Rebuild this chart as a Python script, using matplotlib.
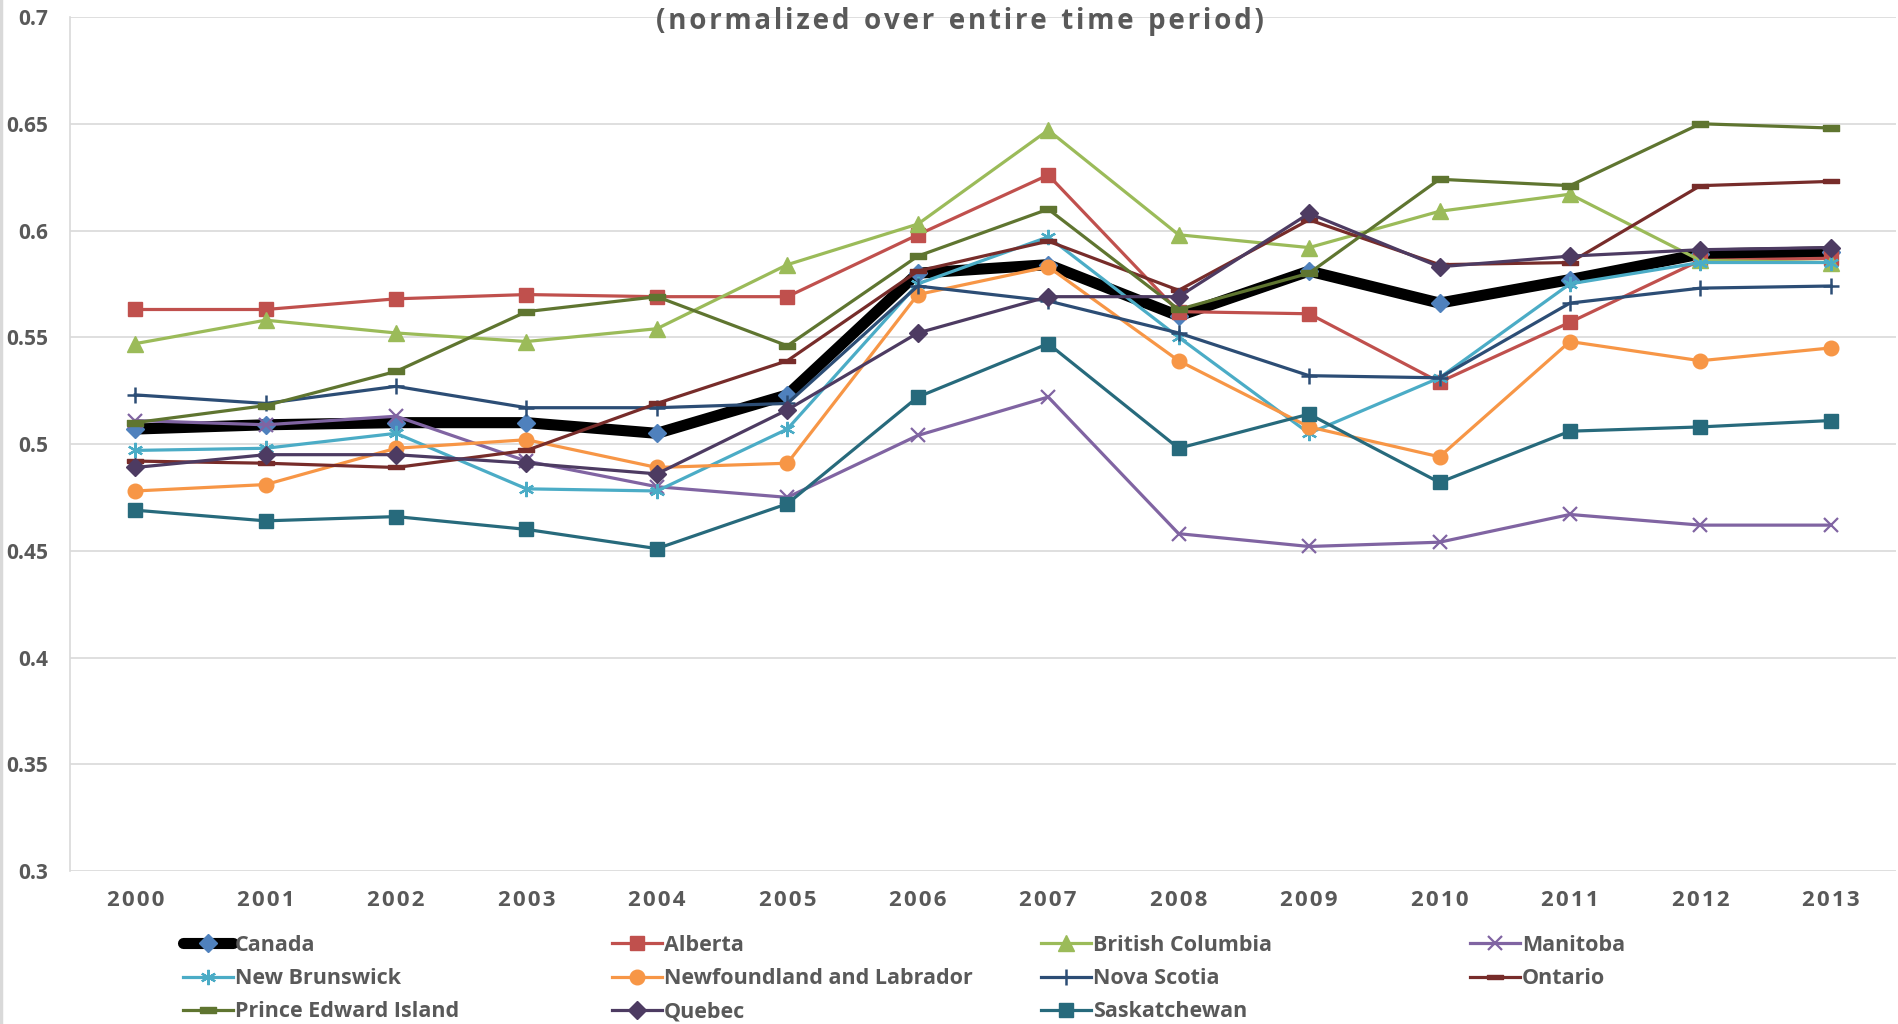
import matplotlib.pyplot as plt
from matplotlib.lines import Line2D
import numpy as np

plt.rcParams['font.family'] = ['Open Sans', 'DejaVu Sans']

years = [str(y) for y in range(2000, 2014)]

canada = [0.507, 0.509, 0.510, 0.510, 0.505, 0.523, 0.580, 0.584, 0.560, 0.581, 0.566, 0.577, 0.589, 0.590]
alberta = [0.563, 0.563, 0.568, 0.570, 0.569, 0.569, 0.598, 0.626, 0.562, 0.561, 0.529, 0.557, 0.586, 0.587]
british_columbia = [0.547, 0.558, 0.552, 0.548, 0.554, 0.584, 0.603, 0.647, 0.598, 0.592, 0.609, 0.617, 0.586, 0.585]
manitoba = [0.511, 0.509, 0.513, 0.492, 0.480, 0.475, 0.504, 0.522, 0.458, 0.452, 0.454, 0.467, 0.462, 0.462]
new_brunswick = [0.497, 0.498, 0.505, 0.479, 0.478, 0.507, 0.575, 0.597, 0.550, 0.505, 0.531, 0.575, 0.585, 0.585]
newfoundland = [0.478, 0.481, 0.498, 0.502, 0.489, 0.491, 0.570, 0.583, 0.539, 0.508, 0.494, 0.548, 0.539, 0.545]
nova_scotia = [0.523, 0.519, 0.527, 0.517, 0.517, 0.519, 0.574, 0.567, 0.552, 0.532, 0.531, 0.566, 0.573, 0.574]
ontario = [0.492, 0.491, 0.489, 0.497, 0.519, 0.539, 0.581, 0.595, 0.572, 0.605, 0.584, 0.585, 0.621, 0.623]
pei = [0.510, 0.518, 0.534, 0.562, 0.569, 0.546, 0.588, 0.610, 0.563, 0.580, 0.624, 0.621, 0.650, 0.648]
quebec = [0.489, 0.495, 0.495, 0.491, 0.486, 0.516, 0.552, 0.569, 0.569, 0.608, 0.583, 0.588, 0.591, 0.592]
saskatchewan = [0.469, 0.464, 0.466, 0.460, 0.451, 0.472, 0.522, 0.547, 0.498, 0.514, 0.482, 0.506, 0.508, 0.511]

names = ['Canada', 'Alberta', 'British Columbia', 'Manitoba', 'New Brunswick',
         'Newfoundland and Labrador', 'Nova Scotia', 'Ontario',
         'Prince Edward Island', 'Quebec', 'Saskatchewan']
values = [canada, alberta, british_columbia, manitoba, new_brunswick,
          newfoundland, nova_scotia, ontario, pei, quebec, saskatchewan]

# short flat bar used by Excel's "dash" marker
dash = [(-1, -0.32), (1, -0.32), (1, 0.32), (-1, 0.32), (-1, -0.32)]

styles = {
    'Canada': dict(color='black', lw=8, marker='D', ms=9, mfc='#4F81BD', mec='#4F81BD',
                   solid_capstyle='round', solid_joinstyle='round'),
    'Alberta': dict(color='#C0504D', marker='s', ms=10.5),
    'British Columbia': dict(color='#9BBB59', marker='^', ms=11),
    'Manitoba': dict(color='#8064A2', marker='x', ms=10, mew=1.6),
    'New Brunswick': dict(color='#4BACC6', marker=(6, 2, 0), ms=11, mew=1.6),
    'Newfoundland and Labrador': dict(color='#F79646', marker='o', ms=10.5),
    'Nova Scotia': dict(color='#2C4D75', marker='+', ms=11, mew=1.8),
    'Ontario': dict(color='#772C2A', marker=dash, ms=11),
    'Prince Edward Island': dict(color='#5F7530', marker=dash, ms=12),
    'Quebec': dict(color='#4D3B62', marker='D', ms=9),
    'Saskatchewan': dict(color='#276A7C', marker='s', ms=10.5),
}


def spaced(s, gap='\u200a'):
    # fake letter tracking by putting hair spaces between the characters
    return gap.join(s)


W, H = 1899, 1024
fig = plt.figure(figsize=(W / 100, H / 100), dpi=100)
ax = fig.add_axes([70 / W, 1 - 871 / H, (1896 - 70) / W, (871 - 17) / H])

x = np.arange(len(years))
handles = []
for name, vals in zip(names, values):
    st = dict(lw=2.3, solid_joinstyle='round')
    st.update(styles[name])
    (ln,) = ax.plot(x, vals, label=name, clip_on=False, **st)
    handles.append(ln)

ax.set_xlim(-0.5, len(years) - 0.5)
ax.set_ylim(0.3, 0.7)
ax.set_yticks(np.arange(0.3, 0.701, 0.05))
ax.set_yticklabels(['0.3', '0.35', '0.4', '0.45', '0.5', '0.55', '0.6', '0.65', '0.7'])
ax.set_xticks(x)
ax.set_xticklabels([spaced(y) for y in years])
ax.grid(axis='y', color='#D9D9D9', lw=1.2)
ax.set_axisbelow(True)
ax.tick_params(length=0, colors='#595959')
ax.tick_params(axis='y', pad=16, labelsize=15)
ax.tick_params(axis='x', pad=14, labelsize=16)
for lab in ax.get_xticklabels() + ax.get_yticklabels():
    lab.set_fontweight('bold')
for side in ['top', 'right', 'bottom']:
    ax.spines[side].set_visible(False)
ax.spines['left'].set_color('#D9D9D9')
ax.spines['left'].set_linewidth(1.2)

# chart border on the left edge
fig.add_artist(Line2D([1.5 / W, 1.5 / W], [0, 1], color='#D9D9D9', lw=2.5))

title = '  '.join(spaced(w) for w in '(normalized over entire time period)'.split(' '))
fig.text(960 / W, 1 - 21 / H, title, ha='center', va='center',
         fontsize=20, fontweight='bold', color='#595959')

# legend in four evenly spaced columns, filled row by row
col_x = [183, 612, 1041, 1470]
for c in range(4):
    hs = handles[c::4]
    fig.legend(hs, [h.get_label() for h in hs], loc='upper left',
               bbox_to_anchor=(col_x[c] / W, 1 - 935 / H), frameon=False,
               borderpad=0, borderaxespad=0, handlelength=2.3, handletextpad=0.1,
               labelspacing=0.56, prop={'size': 15.5, 'weight': 'bold'}, labelcolor='#595959')

fig.savefig('out.png', dpi=100)
